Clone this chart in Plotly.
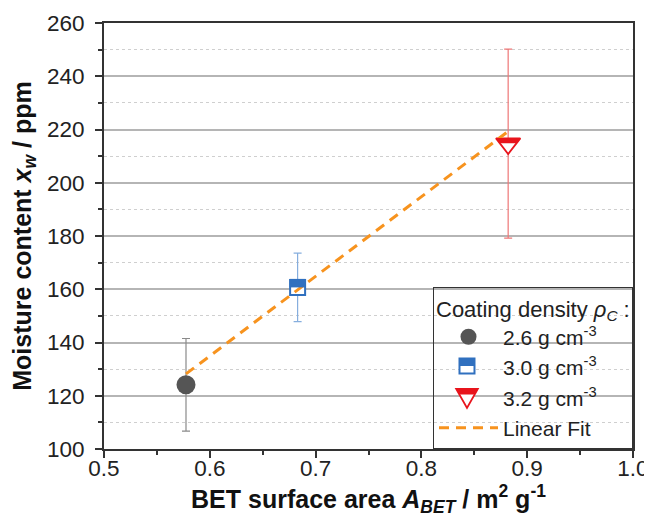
import plotly.graph_objects as go

# ---- data ----
bet_area = [0.5775, 0.683, 0.882]          # m^2 g^-1
moisture = [124.1, 160.7, 214.7]           # ppm
moisture_err = [17.4, 12.85, 35.5]         # ppm
series_names = ["2.6 g cm<sup>-3</sup>", "3.0 g cm<sup>-3</sup>", "3.2 g cm<sup>-3</sup>"]
fit_x = [0.5775, 0.882]
fit_y = [128.2, 219.3]

FONT = "Arial, Liberation Sans, sans-serif"
gray, gray_err = "#555555", "#8a8a8a"
blue, blue_err = "#3070bf", "#86aede"
red, red_err = "#e8141c", "#ee7777"
orange = "#f7931e"
clear = "rgba(0,0,0,0)"

fig = go.Figure()

# circle
fig.add_trace(go.Scatter(
    x=[bet_area[0]], y=[moisture[0]], mode="markers", name=series_names[0],
    marker=dict(symbol="circle", size=19, color=gray, line=dict(width=0)),
    error_y=dict(type="data", array=[moisture_err[0]], color=gray_err, thickness=1.2, width=4)))
# square (white fill, blue border; top half filled by a shape)
fig.add_trace(go.Scatter(
    x=[bet_area[1]], y=[moisture[1]], mode="markers", name=series_names[1], showlegend=False,
    marker=dict(symbol="square", size=15, color="white", line=dict(width=2, color=blue)),
    error_y=dict(type="data", array=[moisture_err[1]], color=blue_err, thickness=1.2, width=4)))
fig.add_trace(go.Scatter(
    x=[None], y=[None], mode="markers", name=series_names[1],
    marker=dict(symbol="square", size=15, color=clear, line=dict(width=0))))
# triangle down
fig.add_trace(go.Scatter(
    x=[bet_area[2]], y=[moisture[2]], mode="markers", name=series_names[2], showlegend=False,
    marker=dict(symbol="triangle-down", size=21, color="white", line=dict(width=1.8, color=red)),
    error_y=dict(type="data", array=[moisture_err[2]], color=red_err, thickness=1.2, width=4)))
fig.add_trace(go.Scatter(
    x=[None], y=[None], mode="markers", name=series_names[2],
    marker=dict(symbol="triangle-down", size=16, color=clear, line=dict(width=0))))
# linear fit
fig.add_trace(go.Scatter(x=fit_x, y=fit_y, mode="lines", name="Linear Fit",
                         line=dict(color=orange, width=3, dash="10px,7px")))

# half-filled parts of the markers, anchored at the data points (pixel-sized)
fig.add_shape(type="rect", xref="x", yref="y", xsizemode="pixel", ysizemode="pixel",
              xanchor=bet_area[1], yanchor=moisture[1],
              x0=-8, x1=8, y0=0, y1=8.5, fillcolor=blue, line=dict(width=0), layer="above")
fig.add_shape(type="path", xref="x", yref="y", xsizemode="pixel", ysizemode="pixel",
              xanchor=bet_area[2], yanchor=moisture[2],
              path="M-12.8,5.6 L12.8,5.6 L8.6,0.3 L-8.6,0.3 Z",
              fillcolor=red, line=dict(width=0), layer="above")

# legend background (legend itself is transparent so the icon shapes show through)
fig.add_shape(type="rect", xref="paper", yref="paper", x0=0.627, x1=1.0, y0=0.0, y1=0.378,
              fillcolor="white", line=dict(width=0), layer="between")
# legend icons: half-filled square and triangle
LEG_X = 0.6862
fig.add_shape(type="rect", xref="paper", yref="paper", xsizemode="pixel", ysizemode="pixel",
              xanchor=LEG_X, yanchor=0.1948, x0=-7.5, x1=7.5, y0=-7.5, y1=7.5,
              fillcolor="white", line=dict(width=2, color=blue), layer="above")
fig.add_shape(type="rect", xref="paper", yref="paper", xsizemode="pixel", ysizemode="pixel",
              xanchor=LEG_X, yanchor=0.1948, x0=-7.5, x1=7.5, y0=0, y1=7.5,
              fillcolor=blue, line=dict(width=0), layer="above")
fig.add_shape(type="path", xref="paper", yref="paper", xsizemode="pixel", ysizemode="pixel",
              xanchor=LEG_X, yanchor=0.1263, path="M-10.8,6.3 L10.8,6.3 L0,-12.7 Z",
              fillcolor="white", line=dict(width=1.8, color=red), layer="above")
fig.add_shape(type="path", xref="paper", yref="paper", xsizemode="pixel", ysizemode="pixel",
              xanchor=LEG_X, yanchor=0.1263, path="M-10.8,6.3 L10.8,6.3 L7.56,0.6 L-7.56,0.6 Z",
              fillcolor=red, line=dict(width=0), layer="above")

fig.update_layout(
    width=644, height=512,
    margin=dict(l=96, r=19, t=15, b=71, autoexpand=False),
    paper_bgcolor="white", plot_bgcolor="white",
    font=dict(family=FONT, size=22, color="#222222"),
    showlegend=True,
    legend=dict(
        x=1, y=0, xanchor="right", yanchor="bottom",
        bgcolor=clear, bordercolor="#333333", borderwidth=1,
        font=dict(family=FONT, size=21, color="#222222"),
        title=dict(text="Coating density <i>ρ</i><sub><i>C</i></sub> :",
                   font=dict(family=FONT, size=22, color="#222222")),
        itemwidth=59, tracegroupgap=0,
    ),
    xaxis=dict(
        range=[0.5, 1.0], dtick=0.1, tick0=0.5, tickformat=".1f",
        showgrid=False, zeroline=False, automargin=False,
        showline=True, linecolor="#333333", linewidth=2, mirror=True,
        ticks="outside", ticklen=7, tickwidth=1.5, tickcolor="#333333",
        ticklabelstandoff=-9,
        minor=dict(dtick=0.05, ticks="outside", ticklen=4, tickwidth=1.5, tickcolor="#333333", showgrid=False),
        title=dict(text="<b>BET surface area <i>A</i><sub><i>BET</i></sub> / m<sup>2</sup> g<sup>-1</sup></b>",
                   font=dict(family=FONT, size=25, color="#111111"), standoff=10),
        tickfont=dict(family=FONT, size=22.5, color="#222222"),
    ),
    yaxis=dict(
        range=[100, 260], dtick=20, tick0=100,
        showgrid=True, gridcolor="#b5b5b5", gridwidth=1.5, zeroline=False, automargin=False,
        showline=True, linecolor="#333333", linewidth=2, mirror=True,
        ticks="outside", ticklen=7, tickwidth=1.5, tickcolor="#333333",
        ticklabelstandoff=6,
        minor=dict(dtick=10, ticks="outside", ticklen=4, tickwidth=1.5, tickcolor="#333333",
                   showgrid=True, gridcolor="#cfcfcf", griddash="dot", gridwidth=1),
        title=dict(text="<b>Moisture content <i>x</i><sub><i>w</i></sub> / ppm</b>",
                   font=dict(family=FONT, size=25, color="#111111"), standoff=13),
        tickfont=dict(family=FONT, size=22.5, color="#222222"),
    ),
)

fig.write_html("out.html")
